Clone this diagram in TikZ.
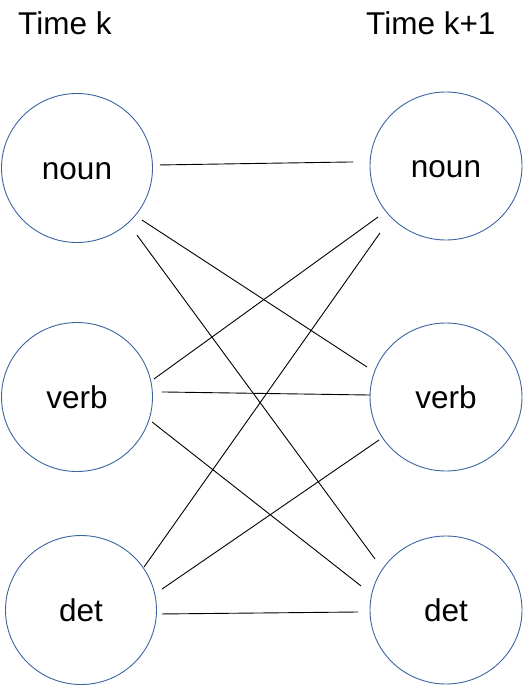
\documentclass[tikz,border=0pt]{standalone}
\usepackage{fontspec}
\setmainfont{Liberation Sans}
\usetikzlibrary{calc,shapes.geometric}
\definecolor{circblue}{RGB}{60,100,160}
\begin{document}
\begin{tikzpicture}[x=1pt,y=-1pt,
  state/.style={ellipse, draw=circblue, line width=0.9pt, inner sep=0pt,
    minimum width=151pt, minimum height=149pt,
    font=\fontsize{31.5}{36}\selectfont, text height=23pt, text depth=0pt},
  rstate/.style={minimum width=152pt, minimum height=148pt},
  edge/.style={black, line width=0.9pt},
  lbl/.style={font=\fontsize{31.5}{36}\selectfont, anchor=base west, inner sep=0pt}]
\useasboundingbox (0,0) rectangle (526,685);
% titles
\node[lbl] (t1) at (18,35) {Time k};
\node[lbl] (t2) at (366,35) {Time k+1};
% states
\node[state] (nL) at (77,168) {noun};
\node[state] (vL) at (77,397) {verb};
\node[state] (dL) at (81,610) {det};
\node[state,rstate] (nR) at (446,166) {noun};
\node[state,rstate] (vR) at (446,397) {verb};
\node[state,rstate] (dR) at (446,610) {det};
% transitions
\draw[edge] ($(nL)+(2.1:83pt)$) -- ($(nR)+(177.5:93pt)$);
\draw[edge] ($(nL)+(-38.7:83.2pt)$) -- ($(vR)+(159.2:84.5pt)$);
\draw[edge] ($(nL)+(-48.2:89.9pt)$) -- ($(dR)+(144.3:87.4pt)$);
\draw[edge] ($(nR)+(-143.1:85pt)$) -- ($(vL)+(13.2:79.1pt)$);
\draw[edge] ($(nR)+(-134.6:94pt)$) -- ($(dL)+(34.3:76.3pt)$);
\draw[edge] ($(vL)+(3.4:85.1pt)$) -- ($(vR)+(178.5:76pt)$);
\draw[edge] ($(vL)+(-18.4:79.1pt)$) -- ($(dR)+(164.2:88.3pt)$);
\draw[edge] ($(vR)+(-147.3:79.6pt)$) -- ($(dL)+(14.5:83.7pt)$);
\draw[edge] ($(dL)+(-2.8:81.1pt)$) -- ($(dR)+(-178.7:88pt)$);
\end{tikzpicture}
\end{document}
